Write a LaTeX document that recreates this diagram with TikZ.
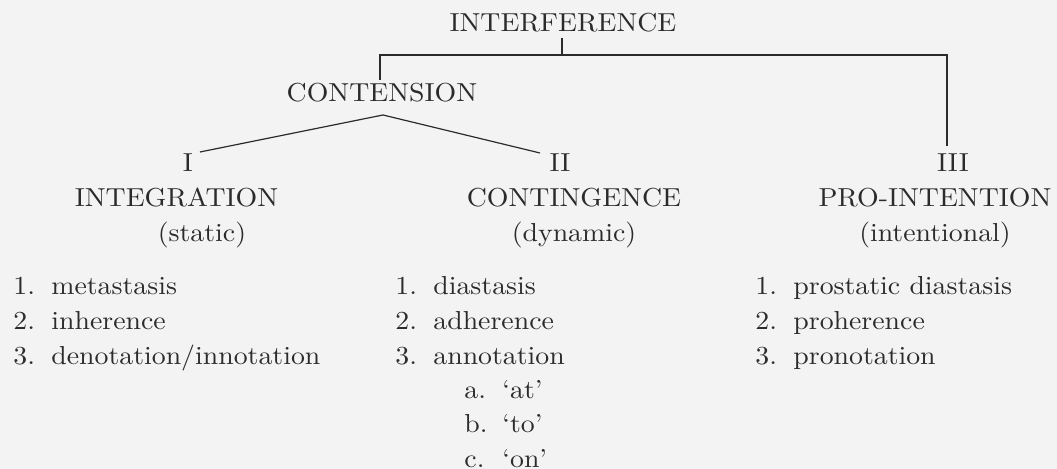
\documentclass[tikz,border=0pt]{standalone}
\usepackage{fontspec}
\setmainfont{lmroman10-regular.otf}[FakeStretch=1.07]
\definecolor{ink}{HTML}{2B2B2B}
\definecolor{paper}{HTML}{F3F3F3}
\newcommand{\num}[1]{\makebox[19pt][l]{#1}}
\begin{document}
\begin{tikzpicture}[x=0.5pt,y=-0.5pt,
  every node/.style={inner sep=0pt, text=ink, font=\fontsize{13}{15}\selectfont},
  head/.style={anchor=base},
  item/.style={anchor=base west},
  link/.style={draw=ink, line width=0.6pt}]
\fill[paper] (0,0) rectangle (1057,469);
\useasboundingbox (0,0) rectangle (1057,469);

% headings
\node[head] (int) at (563,32) {INTERFERENCE};
\node[head] (con) at (382,102) {CONTENSION};
\node[head] (i)   at (188,172) {I};
\node[head] (ii)  at (560,172) {II};
\node[head] (iii) at (953,172) {III};
\node[head] (integ) at (176.5,207) {INTEGRATION};
\node[head] (conti) at (574,207) {CONTINGENCE};
\node[head] (proin) at (935,207) {PRO-INTENTION};
\node[head] (stat) at (202,242) {(static)};
\node[head] (dyn)  at (574,242) {(dynamic)};
\node[head] (inte) at (935,242) {(intentional)};

% connector points
\coordinate (intBot) at (562,38);
\coordinate (jMid) at (562,55);
\coordinate (jL) at (380,55);
\coordinate (jR) at (947,55);
\coordinate (conTop) at (380,80);
\coordinate (iiiTop) at (947,146);
\coordinate (apex) at (383,115);
\coordinate (iTop) at (200,152);
\coordinate (iiTop) at (540,153);

\draw[link] (intBot) -- (jMid);
\draw[link] (conTop) -- (jL) -- (jR) -- (iiiTop);
\draw[link] (iTop) -- (apex) -- (iiTop);

% column 1
\node[item] (a1) at (13,295) {\num{1.}metastasis};
\node[item] (a2) at (13,330) {\num{2.}inherence};
\node[item] (a3) at (13,365) {\num{3.}denotation/innotation};

% column 2
\node[item] (b1) at (395,295) {\num{1.}diastasis};
\node[item] (b2) at (395,330) {\num{2.}adherence};
\node[item] (b3) at (395,365) {\num{3.}annotation};
\node[item] (ba) at (464,399) {\num{a.}‘at’};
\node[item] (bb) at (464,433) {\num{b.}‘to’};
\node[item] (bc) at (464,468) {\num{c.}‘on’};

% column 3
\node[item] (c1) at (755,295) {\num{1.}prostatic diastasis};
\node[item] (c2) at (755,330) {\num{2.}proherence};
\node[item] (c3) at (755,365) {\num{3.}pronotation};
\end{tikzpicture}
\end{document}
